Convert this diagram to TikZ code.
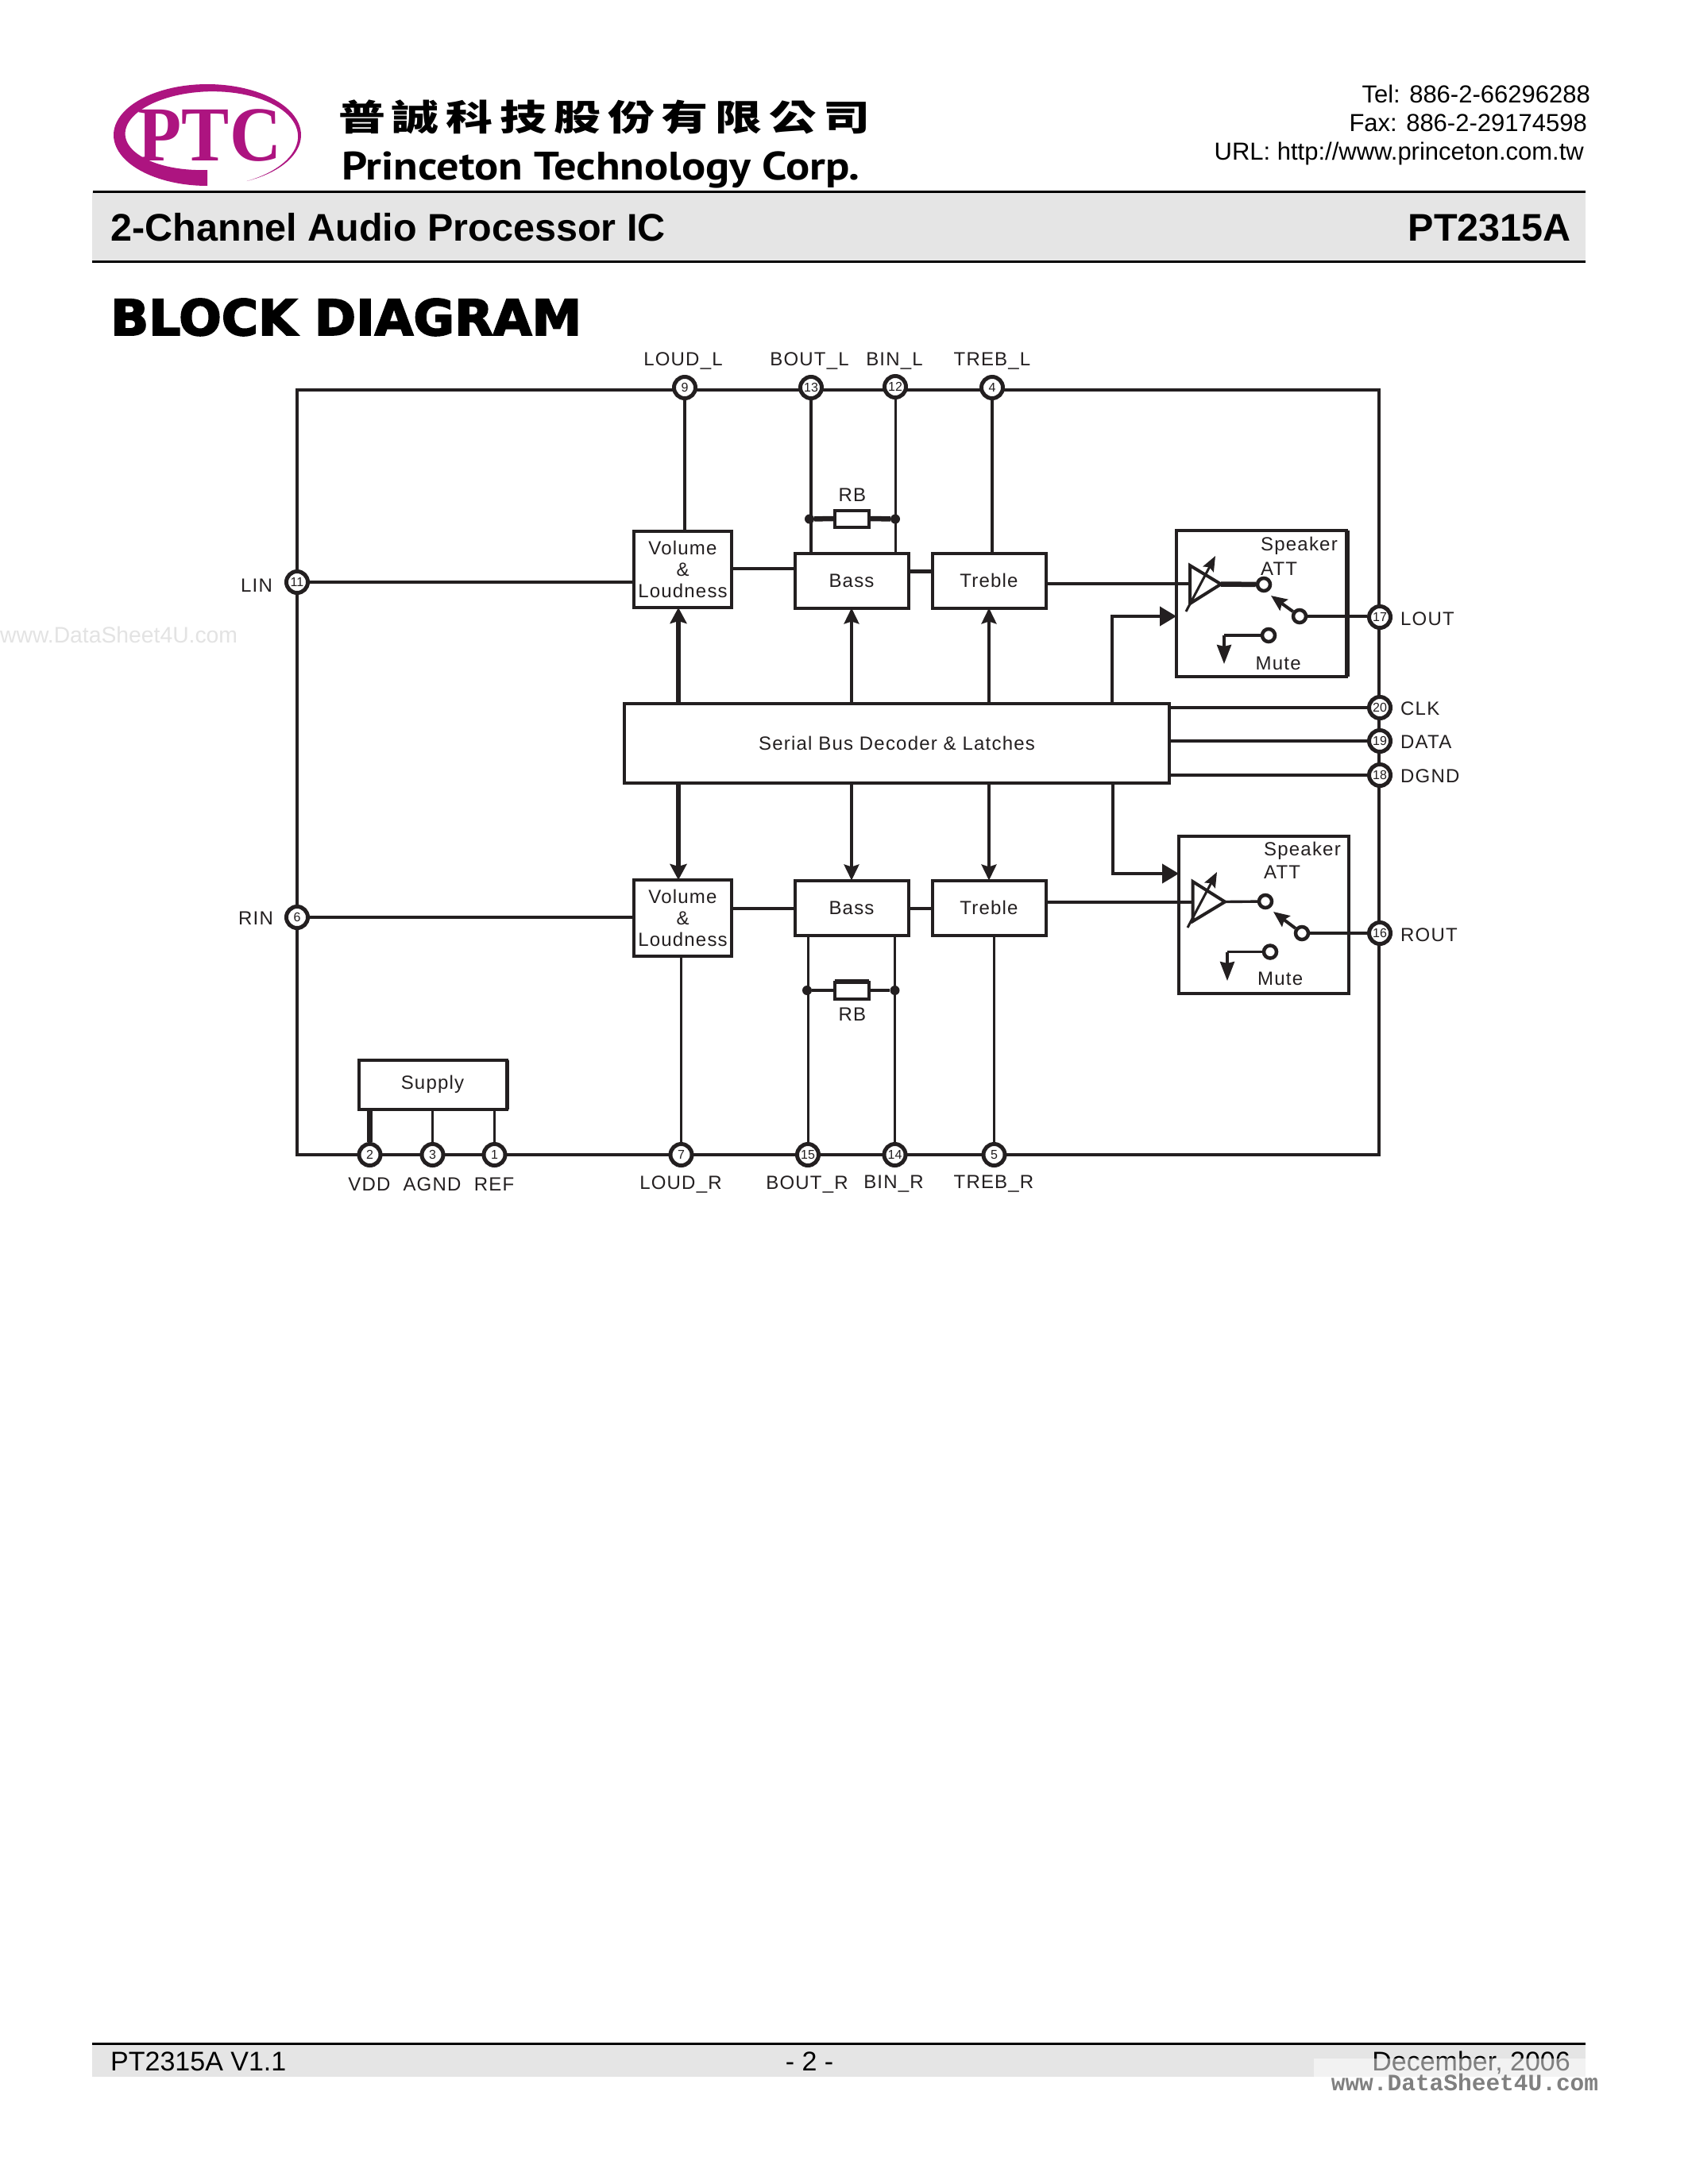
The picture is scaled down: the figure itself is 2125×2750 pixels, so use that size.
\documentclass[tikz,border=0pt]{standalone}
\usepackage{fontspec}
\usetikzlibrary{arrows.meta}
\setmainfont{Liberation Sans}
\newfontfamily\dgmfont[LetterSpace=5]{Liberation Sans}
\newfontfamily\cjkfont[LetterSpace=15]{Noto Sans CJK TC}
\newfontfamily\blackfont[FakeBold=3]{DejaVu Sans Bold}
\newfontfamily\brandfont{PT Sans}
\newfontfamily\logofont{Liberation Serif}
\newfontfamily\markfont{Liberation Mono}
\definecolor{ink}{HTML}{231F20}
\definecolor{band}{HTML}{E5E5E5}
\definecolor{ptc}{HTML}{AD1480}
\tikzset{
  x=1pt,y=-1pt,
  wire/.style={draw=ink,line width=3.4pt},
  thinwire/.style={draw=ink,line width=3pt},
  thickwire/.style={draw=ink,line width=6.5pt},
  blockbox/.style={draw=ink,line width=4pt,fill=white,inner sep=0pt,outer sep=0pt,align=center,
     font=\dgmfont\fontsize{24}{27}\selectfont,text=ink},
  pinnode/.style={circle,draw=ink,line width=5pt,fill=white,inner sep=0pt,minimum size=27pt,
     font=\fontsize{16}{16}\selectfont,text=ink},
  tinypin/.style={circle,draw=ink,line width=4.5pt,fill=white,inner sep=0pt,minimum size=16pt},
  jointdot/.style={circle,fill=ink,inner sep=0pt,minimum size=12pt},
  sig/.style={font=\dgmfont\fontsize{24}{27}\selectfont,text=ink,inner sep=0pt},
  bigtip/.style={-{Stealth[length=20pt,width=21pt,inset=3pt]}},
  midtip/.style={-{Stealth[length=20pt,width=19pt,inset=3pt]}},
  sidetip/.style={-{Stealth[length=21pt,width=24pt,inset=0pt]}},
  mutetip/.style={-{Stealth[length=24pt,width=18pt,inset=2pt]}},
  swtip/.style={-{Stealth[length=20pt,width=17pt,inset=3pt]}},
  headtext/.style={inner sep=0pt,font=\fontsize{31}{31}\selectfont,anchor=base east},
  titletext/.style={inner sep=0pt,font=\bfseries\fontsize{48.5}{48.5}\selectfont},
  foottext/.style={inner sep=0pt,font=\fontsize{34}{34}\selectfont},
}
\begin{document}
\begin{tikzpicture}
\useasboundingbox (0,0) rectangle (2125,2750);
\fill[white] (0,0) rectangle (2125,2750);

% logo
\fill[ptc] plot[domain=90:425,samples=90] ({261+118*cos(\x)},{170+64*sin(\x)})
  -- plot[domain=425:90,samples=90] ({261+(118-20*(425-\x)/335)*cos(\x)},{170+(64-20*(425-\x)/335)*sin(\x)}) -- cycle;
\node[inner sep=0pt,text=ptc,anchor=base] (logo) at (264,202) {\logofont\bfseries\fontsize{98}{98}\selectfont\scalebox{0.92}[1]{PTC}};
\node[inner sep=0pt,anchor=base west] (cname) at (426,164) {\scalebox{1.31}[1]{\cjkfont\bfseries\fontsize{45}{45}\selectfont 普誠科技股份有限公司}};
\node[inner sep=0pt,anchor=base west] (ename) at (430,226) {\scalebox{1.125}[1]{\brandfont\bfseries\fontsize{50}{50}\selectfont Princeton Technology Corp.}};

% contact
\node[headtext] (tel) at (2002,129) {Tel: 886-2-66296288};
\node[headtext] (fax) at (1998,165) {Fax: 886-2-29174598};
\node[headtext] (url) at (1994,201) {URL: http://www.princeton.com.tw};

% title band
\fill[band] (116,241) rectangle (1996,329);
\draw[black,line width=3pt] (117,241) -- (1996,241);
\draw[black,line width=3pt] (116,329) -- (1996,329);
\node[titletext,anchor=base west] (title) at (139.5,303) {2-Channel Audio Processor IC};
\node[titletext,anchor=base east] (part) at (1978,303) {PT2315A};
\node[inner sep=0pt,anchor=base west] (blockhead) at (139,422) {\scalebox{1.017}[1]{\blackfont\fontsize{62}{62}\selectfont BLOCK DIAGRAM}};

% left watermark
\node[inner sep=0pt,anchor=base west,text=black!11,font=\fontsize{28.3}{28.3}\selectfont] (mark1) at (0,809.5) {www.DataSheet4U.com};

% frame
\coordinate (fa) at (373.5,491);
\coordinate (fb) at (1736,1454);
\draw[draw=ink,line width=4pt] (fa) rectangle (fb);

% blocks
\node[blockbox,minimum width=123pt,minimum height=96pt] (voll) at (859.5,717) {Volume\\\&\\Loudness};
\node[blockbox,minimum width=143pt,minimum height=69pt] (bassl) at (1072,731) {Bass};
\node[blockbox,minimum width=143pt,minimum height=69pt] (trebl) at (1245,731) {Treble};
\node[blockbox,minimum width=686pt,minimum height=100pt] (serial) at (1129,935.5) {Serial Bus Decoder \& Latches};
\node[blockbox,minimum width=123pt,minimum height=96pt] (volr) at (859.5,1156) {Volume\\\&\\Loudness};
\node[blockbox,minimum width=143pt,minimum height=69pt] (bassr) at (1072,1143) {Bass};
\node[blockbox,minimum width=143pt,minimum height=69pt] (trebr) at (1245,1143) {Treble};
\node[blockbox,minimum width=186pt,minimum height=62pt] (supply) at (544.5,1365.5) {Supply};
\node[blockbox,minimum width=214pt,minimum height=184pt] (spkl) at (1588,760) {};
\node[blockbox,minimum width=214pt,minimum height=198pt] (spkr) at (1591,1152) {};
\node[blockbox,minimum width=43pt,minimum height=21pt] (rbl) at (1072,653) {};
\node[blockbox,minimum width=43pt,minimum height=21pt] (rbr) at (1072,1247) {};
\draw[draw=ink,line width=6pt] ([xshift=1pt]spkl.north east) -- ([xshift=1pt]spkl.south east);
\draw[draw=ink,line width=5pt] ([xshift=1pt]supply.north east) -- ([xshift=1pt]supply.south east);
\draw[draw=ink,line width=6pt] ([yshift=1pt]rbr.north west) -- ([yshift=1pt]rbr.north east);

% pins
\node[pinnode] (p9) at (862,488) {9};
\node[pinnode] (p13) at (1021,488) {13};
\node[pinnode] (p12) at (1127,487) {12};
\node[pinnode] (p4) at (1249,488) {4};
\node[pinnode] (p11) at (374,733) {11};
\node[pinnode] (p6) at (374,1155) {6};
\node[pinnode] (p17) at (1737,777) {17};
\node[pinnode] (p20) at (1737,891) {20};
\node[pinnode] (p19) at (1737,933) {19};
\node[pinnode] (p18) at (1737,976) {18};
\node[pinnode] (p16) at (1737,1175) {16};
\node[pinnode] (p2) at (465.5,1454) {2};
\node[pinnode] (p3) at (544.5,1454) {3};
\node[pinnode] (p1) at (622.5,1454) {1};
\node[pinnode] (p7) at (857.5,1454) {7};
\node[pinnode] (p15) at (1017,1454) {15};
\node[pinnode] (p14) at (1126.5,1454) {14};
\node[pinnode] (p5) at (1251.5,1454) {5};

% pin labels
\node[sig] (lloudl) at (860,454.5) {LOUD\_L};
\node[sig] (lboutl) at (1019,454.5) {BOUT\_L};
\node[sig] (lbinl) at (1126,454.5) {BIN\_L};
\node[sig] (ltrebl) at (1249,454.5) {TREB\_L};
\node[sig] (llin) at (323,737) {LIN};
\node[sig] (lrin) at (322,1156) {RIN};
\node[sig,anchor=west] (llout) at (1763,779) {LOUT};
\node[sig,anchor=west] (lclk) at (1763,892) {CLK};
\node[sig,anchor=west] (ldata) at (1763,934) {DATA};
\node[sig,anchor=west] (ldgnd) at (1763,977) {DGND};
\node[sig,anchor=west] (lrout) at (1763,1177) {ROUT};
\node[sig] (lvdd) at (465,1491) {VDD};
\node[sig] (lagnd) at (544,1491) {AGND};
\node[sig] (lref) at (622,1491) {REF};
\node[sig] (lloudr) at (857,1491) {LOUD\_R};
\node[sig] (lboutr) at (1016,1491) {BOUT\_R};
\node[sig] (lbinr) at (1125,1491) {BIN\_R};
\node[sig] (ltrebr) at (1251,1491) {TREB\_R};
\node[sig] (lrb1) at (1073,623) {RB};
\node[sig] (lrb2) at (1073,1277) {RB};

% top connections
\draw[wire] (p9) -- (p9 |- voll.north);
\draw[wire] (p13) -- (p13 |- bassl.north);
\draw[thinwire] (p12) -- (p12 |- bassl.north);
\draw[wire] (p4) -- (p4 |- trebl.north);
\draw[wire] (p11) -- (p11 -| voll.west);
\coordinate (lvb) at (960,716);
\draw[wire] (lvb -| voll.east) -- (lvb -| bassl.west);
\coordinate (lbt) at (1158,719);
\draw[draw=ink,line width=5pt] (lbt -| bassl.east) -- (lbt -| trebl.west);

% left RB
\node[jointdot] (dl1) at (1019,653.5) {};
\node[jointdot] (dl2) at (1127,653.5) {};
\draw[thickwire] (dl1) -- (rbl.west);
\draw[thickwire] (rbl.east) -- (dl2);

% arrows from the decoder, left channel
\coordinate (au) at (854,884);
\draw[thickwire,bigtip] (au) -- (au |- voll.south);
\draw[wire,midtip] (bassl.south |- serial.north) -- (bassl.south);
\draw[wire,midtip] (trebl.south |- serial.north) -- (trebl.south);
\coordinate (sau) at (1400,884);
\coordinate (sat) at (1481,776);
\draw[draw=ink,line width=4pt,sidetip] (sau) |- (sat);

% speaker L
\coordinate (amp1) at (1499,735);
\coordinate (amp1t) at (1498,712);
\coordinate (amp1a) at (1537,735.5);
\coordinate (amp1b) at (1498,760);
\node[tinypin] (c1a) at (1591,736) {};
\node[tinypin] (c1s) at (1636,776) {};
\node[tinypin] (c1m) at (1597,800) {};
\coordinate (c1p) at (1600,750);
\coordinate (d1a) at (1493,770);
\coordinate (d1b) at (1530,700);
\coordinate (m1c) at (1541,800);
\coordinate (m1e) at (1541,836);
\draw[wire] (trebl.east |- amp1) -- (amp1);
\draw[draw=ink,line width=4pt,line join=miter] (amp1t) -- (amp1a) -- (amp1b) -- cycle;
\draw[draw=ink,line width=3pt,-{Stealth[length=19pt,width=15pt,inset=3pt]}] (d1a) -- (d1b);
\draw[thickwire] (amp1a) -- (c1a);
\draw[draw=ink,line width=4pt,swtip] (c1s) -- (c1p);
\draw[wire] (c1s) -- (c1s -| p17.west);
\draw[draw=ink,line width=3.4pt] (c1m) -- (m1c);
\draw[draw=ink,line width=3.4pt,mutetip] (m1c) -- (m1e);
\node[sig,anchor=west] (t1a) at (1587,687) {Speaker};
\node[sig,anchor=west] (t1b) at (1587,716) {ATT};
\node[sig,anchor=west] (t1c) at (1580.5,835) {Mute};

% serial to pins
\draw[wire] (serial.east |- p20) -- (p20);
\draw[wire] (serial.east |- p19) -- (p19);
\draw[wire] (serial.east |- p18) -- (p18);

% arrows from the decoder, right channel
\coordinate (ad) at (854,986);
\draw[thickwire,bigtip] (ad) -- (ad |- volr.north);
\draw[wire,midtip] (bassr.north |- serial.south) -- (bassr.north);
\draw[wire,midtip] (trebr.north |- serial.south) -- (trebr.north);
\coordinate (sad) at (1401,986);
\coordinate (sbt) at (1484,1100);
\draw[draw=ink,line width=4pt,sidetip] (sad) |- (sbt);

% bottom connections
\draw[wire] (p6) -- (p6 -| volr.west);
\coordinate (rvb) at (960,1144);
\draw[wire] (rvb -| volr.east) -- (rvb -| bassr.west);
\draw[wire] (rvb -| bassr.east) -- (rvb -| trebr.west);
\draw[thinwire] (p7) -- (p7 |- volr.south);
\draw[thinwire] (p15) -- (p15 |- bassr.south);
\draw[thinwire] (p14) -- (p14 |- bassr.south);
\draw[thinwire] (p5) -- (p5 |- trebr.south);
\node[jointdot] (dr1) at (1016,1247) {};
\node[jointdot] (dr2) at (1126.5,1247) {};
\draw[wire] (dr1) -- (rbr.west);
\draw[wire] (rbr.east) -- (dr2);
\draw[thickwire] (p2) -- (p2 |- supply.south);
\draw[wire] (p3) -- (p3 |- supply.south);
\draw[wire] (p1) -- (p1 |- supply.south);

% speaker R
\coordinate (amp2) at (1501.5,1136);
\coordinate (amp2t) at (1501.5,1110);
\coordinate (amp2a) at (1542,1135.5);
\coordinate (amp2b) at (1501.5,1160);
\node[tinypin] (c2a) at (1593,1135) {};
\node[tinypin] (c2s) at (1639,1175) {};
\node[tinypin] (c2m) at (1599,1198.5) {};
\coordinate (c2p) at (1603,1148);
\coordinate (d2a) at (1495,1168);
\coordinate (d2b) at (1532,1098);
\coordinate (m2c) at (1545,1198.5);
\coordinate (m2e) at (1545,1235);
\draw[wire] (trebr.east |- amp2) -- (amp2);
\draw[draw=ink,line width=4pt,line join=miter] (amp2t) -- (amp2a) -- (amp2b) -- cycle;
\draw[draw=ink,line width=3pt,-{Stealth[length=19pt,width=15pt,inset=3pt]}] (d2a) -- (d2b);
\draw[wire] (amp2a) -- (c2a);
\draw[draw=ink,line width=4pt,swtip] (c2s) -- (c2p);
\draw[wire] (c2s) -- (c2s -| p16.west);
\draw[draw=ink,line width=3.4pt] (c2m) -- (m2c);
\draw[draw=ink,line width=3.4pt,mutetip] (m2c) -- (m2e);
\node[sig,anchor=west] (t2a) at (1591,1071) {Speaker};
\node[sig,anchor=west] (t2b) at (1591,1098) {ATT};
\node[sig,anchor=west] (t2c) at (1583,1232) {Mute};

% footer
\fill[band] (116,2573) rectangle (1996,2615);
\draw[black,line width=3pt] (116,2573) -- (1996,2573);
\node[foottext,anchor=base west] (fver) at (139,2607) {PT2315A V1.1};
\node[foottext,anchor=base] (fpage) at (1019,2607) {- 2 -};
\node[foottext,anchor=base east] (fdate) at (1977,2607) {December, 2006};
\fill[white,opacity=0.5] (1654,2592) rectangle (1996,2640);
\node[inner sep=0pt,text=black!50,anchor=base] (mark2) at (1844,2632) {\markfont\bfseries\fontsize{29.5}{29.5}\selectfont www.DataSheet4U.com};
\end{tikzpicture}
\end{document}
